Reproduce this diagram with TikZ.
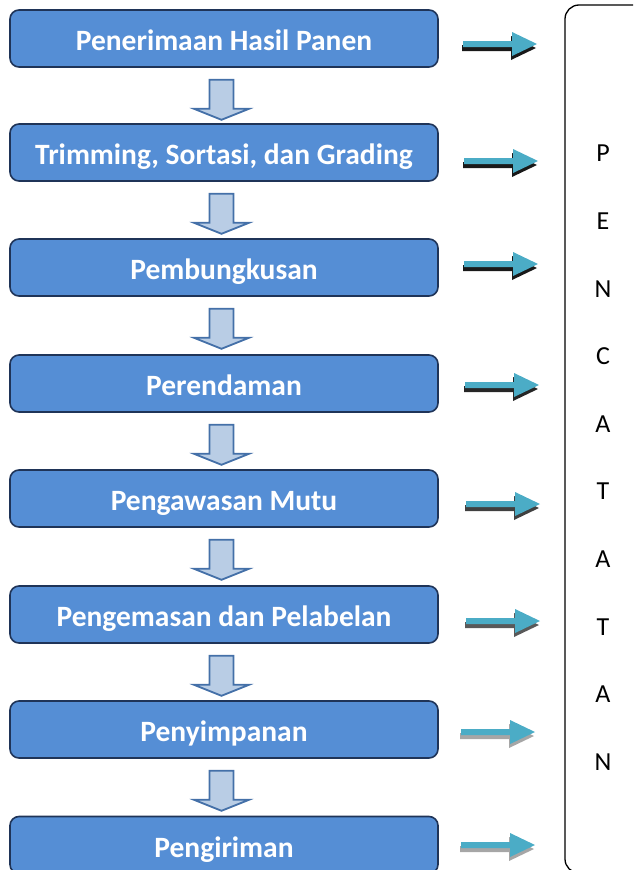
\documentclass[tikz,border=0pt]{standalone}
\usepackage{fontspec}
\setmainfont{Carlito}
\usetikzlibrary{calc}
\definecolor{boxfill}{HTML}{558ED5}
\definecolor{boxline}{HTML}{1F3458}
\definecolor{darrfill}{HTML}{B9CDE5}
\definecolor{darrline}{HTML}{4470A8}
\definecolor{teal}{HTML}{4BACC6}
\newcommand\flowdown[1]{\draw[darr,shift={(#1)}] (-12,0) -- (12,0) -- (12,29) -- (27.5,29) -- (0,40) -- (-27.5,29) -- (-12,29) -- cycle;}
\newcommand\sidearr[2]{%
  \fill[#2,shift={($(#1)+(-1,4)$)}] (0,-3) -- (49,-3) -- (49,-12) -- (74,0) -- (49,12) -- (49,3) -- (0,3) -- cycle;
  \fill[teal,shift={(#1)}] (0,-3) -- (49,-3) -- (49,-12) -- (74,0) -- (49,12) -- (49,3) -- (0,3) -- cycle;}
\begin{document}
\begin{tikzpicture}[x=1pt,y=-1pt,
  stepbox/.style={draw=boxline,line width=1.6pt,fill=boxfill,rounded corners=9pt,
    minimum width=428pt,minimum height=57pt,inner sep=0pt,text height=24pt,text depth=0pt,
    text=white,font=\fontsize{29.5}{32}\selectfont\bfseries},
  darr/.style={draw=darrline,line width=1.8pt,fill=darrfill,line join=miter},
  letter/.style={font=\fontsize{26}{30}\selectfont,text=black,inner sep=0pt},
  panel/.style={draw=black,line width=1.3pt,rounded corners=14pt}]
\useasboundingbox (0,0) rectangle (633,870);
\clip (0,0) rectangle (633,870);
% boxes
\node[stepbox] (b1) at (224,38.5) {Penerimaan Hasil Panen};
\node[stepbox] (b2) at (224,152.5) {Trimming, Sortasi, dan Grading};
\node[stepbox] (b3) at (224,267.5) {Pembungkusan};
\node[stepbox] (b4) at (224,383.5) {Perendaman};
\node[stepbox] (b5) at (224,498.5) {Pengawasan Mutu};
\node[stepbox] (b6) at (224,614.5) {Pengemasan dan Pelabelan};
\node[stepbox] (b7) at (224,729.5) {Penyimpanan};
\node[stepbox] (b8) at (224,845) {Pengiriman};
% down arrows
\foreach \i/\j in {1/2,2/3,3/4,4/5,5/6,6/7,7/8}{
  \coordinate (d\i) at ($(b\i.south)+(-2.5,12)$);
  \flowdown{d\i}
}
% panel
\draw[panel] (565,5) rectangle (700,873);
\foreach \c [count=\k from 0] in {P,E,N,C,A,T,A,T,A,N}{
  \node[letter] (l\k) at (603,{153.5+67.6*\k}) {\c};
}
% side arrows
\coordinate (r1) at (463,44);
\coordinate (r2) at (464,161);
\coordinate (r3) at (464,264);
\coordinate (r4) at (465,385);
\coordinate (r5) at (466,504);
\coordinate (r6) at (466,621);
\coordinate (r7) at (461,732);
\coordinate (r8) at (461,845);
\sidearr{r1}{black!90}
\sidearr{r2}{black!90}
\sidearr{r3}{black!90}
\sidearr{r4}{black!85}
\sidearr{r5}{black!75}
\sidearr{r6}{black!65}
\sidearr{r7}{black!35}
\sidearr{r8}{black!35}
\end{tikzpicture}
\end{document}
